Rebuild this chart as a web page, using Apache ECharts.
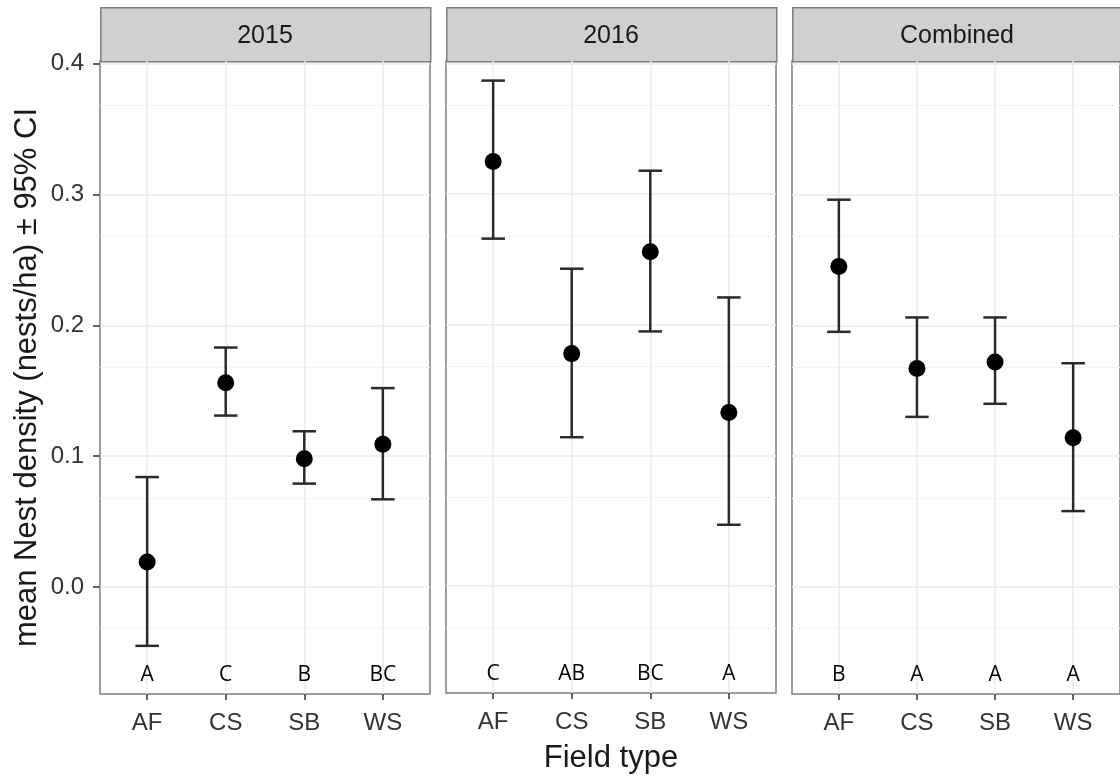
<!DOCTYPE html>
<html>
<head>
<meta charset="utf-8">
<script src="https://cdn.jsdelivr.net/npm/echarts@6/dist/echarts.min.js"></script>
<style>
  html, body { margin: 0; padding: 0; background: #fff; }
  #chart { width: 1120px; height: 779px; }
</style>
</head>
<body>
<div id="chart"></div>
<script>
// field types and facet names
var categories = ['AF', 'CS', 'SB', 'WS'];
var panels = ['2015', '2016', 'Combined'];
var yTicks = [0, 0.1, 0.2, 0.3, 0.4];

// mean nest density and 95% CI
var mean2015 = [0.019, 0.156, 0.098, 0.109];
var lo2015 = [-0.045, 0.131, 0.079, 0.067];
var hi2015 = [0.084, 0.183, 0.119, 0.152];
var letters2015 = ['A', 'C', 'B', 'BC'];

var mean2016 = [0.325, 0.178, 0.256, 0.133];
var lo2016 = [0.266, 0.114, 0.195, 0.047];
var hi2016 = [0.387, 0.243, 0.318, 0.221];
var letters2016 = ['C', 'AB', 'BC', 'A'];

var meanComb = [0.245, 0.167, 0.172, 0.114];
var loComb = [0.195, 0.130, 0.140, 0.058];
var hiComb = [0.296, 0.206, 0.206, 0.171];
var lettersComb = ['B', 'A', 'A', 'A'];

var letterY = -0.067;

var means = [mean2015, mean2016, meanComb];
var los = [lo2015, lo2016, loComb];
var his = [hi2015, hi2016, hiComb];
var letters = [letters2015, letters2016, lettersComb];

var chart = echarts.init(document.getElementById('chart'));

var panelLeft = [100, 446, 792];
var panelW = 330;
var font = '"Liberation Sans", Arial, sans-serif';
var border = '#7f7f7f';

var grids = [], xAxes = [], yAxes = [], series = [], graphics = [];

panels.forEach(function (name, i) {
  grids.push({
    left: panelLeft[i], top: 61, width: panelW, height: 633,
    show: true, backgroundColor: '#fff', borderColor: border, borderWidth: 1.5
  });
  xAxes.push({
    type: 'value', gridIndex: i, min: 0.4, max: 4.6, interval: 1,
    axisLine: { show: false, onZero: false },
    axisTick: { show: true, length: 6, customValues: [1, 2, 3, 4], lineStyle: { color: '#333', width: 1.5 } },
    axisLabel: {
      show: true, customValues: [1, 2, 3, 4], margin: 17,
      fontFamily: font, fontSize: 24, color: '#333',
      formatter: function (v) { return categories[Math.round(v) - 1]; }
    },
    splitLine: { show: true, lineStyle: { color: '#ebebeb', width: 1.5 } },
    name: i === 1 ? 'Field type' : '',
    nameLocation: 'middle', nameGap: 50,
    nameTextStyle: { fontFamily: font, fontSize: 31, color: '#1a1a1a' }
  });
  yAxes.push({
    type: 'value', gridIndex: i, min: -0.0818, max: 0.402, interval: 0.1,
    axisLine: { show: false, onZero: false },
    axisTick: { show: i === 0, length: 7, customValues: yTicks, lineStyle: { color: '#333', width: 1.5 } },
    axisLabel: {
      show: i === 0, customValues: yTicks, margin: 16,
      fontFamily: font, fontSize: 24, color: '#333',
      formatter: function (v) { return v.toFixed(1); }
    },
    splitLine: { show: true, lineStyle: { color: '#ebebeb', width: 1.5 } },
    minorTick: { show: false, splitNumber: 2 },
    minorSplitLine: { show: true, lineStyle: { color: '#f4f4f4', width: 1 } },
    name: i === 0 ? 'mean Nest density (nests/ha) \u00b1 95% CI' : '',
    nameLocation: 'middle', nameRotate: 90, nameGap: 57,
    nameTextStyle: { fontFamily: font, fontSize: 31, color: '#1a1a1a' }
  });

  var barData = categories.map(function (c, k) { return [k + 1, los[i][k], his[i][k]]; });
  var ptData = categories.map(function (c, k) { return [k + 1, means[i][k]]; });
  var txtData = categories.map(function (c, k) { return [k + 1, letterY]; });

  series.push({
    type: 'custom', xAxisIndex: i, yAxisIndex: i, data: barData, z: 3,
    encode: { x: 0, y: [1, 2] },
    renderItem: function (params, api) {
      var x = api.value(0);
      var top = api.coord([x, api.value(2)]);
      var bot = api.coord([x, api.value(1)]);
      var half = api.size([0.15, 0])[0];
      var st = { stroke: '#2b2b2b', lineWidth: 2.5, fill: null };
      return {
        type: 'group',
        children: [
          { type: 'line', shape: { x1: top[0], y1: top[1], x2: bot[0], y2: bot[1] }, style: st },
          { type: 'line', shape: { x1: top[0] - half, y1: top[1], x2: top[0] + half, y2: top[1] }, style: st },
          { type: 'line', shape: { x1: bot[0] - half, y1: bot[1], x2: bot[0] + half, y2: bot[1] }, style: st }
        ]
      };
    }
  });
  series.push({
    type: 'scatter', xAxisIndex: i, yAxisIndex: i, data: ptData, z: 4,
    symbol: 'circle', symbolSize: 17, itemStyle: { color: '#000', opacity: 1 }
  });
  series.push({
    type: 'scatter', xAxisIndex: i, yAxisIndex: i, data: txtData, z: 4,
    symbolSize: 1, itemStyle: { color: 'rgba(0,0,0,0)', opacity: 1 },
    label: {
      show: true, position: 'inside',
      fontFamily: '"Open Sans", sans-serif', fontSize: 21, color: '#000', opacity: 1,
      formatter: (function (lab) { return function (p) { return lab[p.dataIndex]; }; })(letters[i])
    }
  });

  // facet strip
  graphics.push({
    type: 'rect', left: panelLeft[i], top: 7,
    shape: { width: panelW, height: 54 },
    style: { fill: '#d0d0d0', stroke: border, lineWidth: 1.5 }
  });
  graphics.push({
    type: 'text', x: panelLeft[i] + panelW / 2, y: 36,
    style: { text: name, font: '25px ' + font, fill: '#1a1a1a', textAlign: 'center', textVerticalAlign: 'middle' }
  });
});

chart.setOption({
  animation: false,
  backgroundColor: '#fff',
  grid: grids,
  xAxis: xAxes,
  yAxis: yAxes,
  series: series,
  graphic: graphics
});
</script>
</body>
</html>
